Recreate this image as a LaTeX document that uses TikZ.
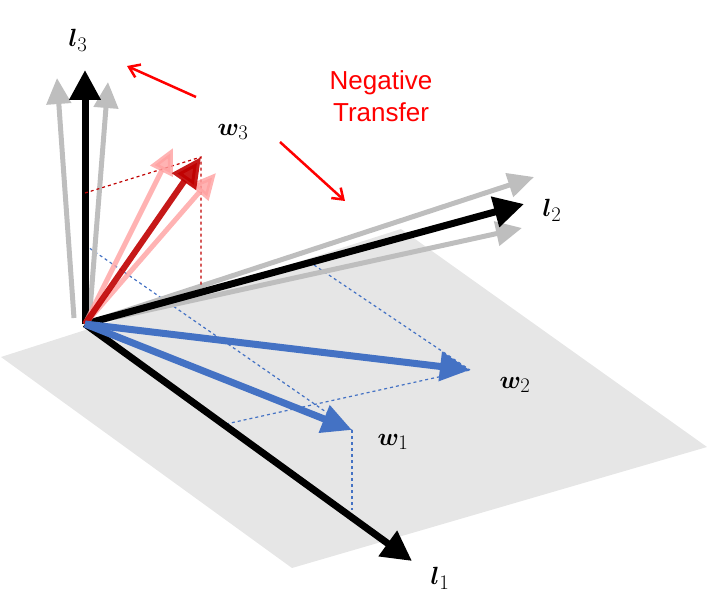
\documentclass[tikz,border=0pt]{standalone}
\usepackage{fontspec}
\usepackage{bm}
\newfontfamily\labsans{Liberation Sans}
\usetikzlibrary{arrows.meta}
\definecolor{wblue}{RGB}{68,114,196}
\definecolor{dred}{RGB}{192,0,0}
\definecolor{pinkv}{RGB}{255,160,160}
\definecolor{grayv}{RGB}{190,190,190}
\definecolor{planeg}{RGB}{230,230,230}
\tikzset{
  bigtip/.style={-{Triangle[length=30pt,width=30pt]}},
  axis/.style={bigtip,line width=7pt,black},
  ghost/.style={-{Triangle[length=26pt,width=24pt]},line width=5pt,grayv},
  wvec/.style={-{Triangle[length=30pt,width=28pt]},line width=7pt,wblue},
  pinkvec/.style={-{Triangle[length=26pt,width=24pt]},line width=5pt,pinkv,opacity=0.8},
  redvec/.style={-{Triangle[length=30pt,width=28pt]},line width=6pt,dred,opacity=0.9},
  bdash/.style={dashed,wblue,line width=1.2pt},
  rdash/.style={dashed,dred,line width=1.2pt},
  lab/.style={font=\fontsize{30}{30}\selectfont},
  redarrow/.style={-{Straight Barb[length=10pt,width=14pt]},red,line width=2.5pt}
}
\begin{document}
\begin{tikzpicture}[x=1pt,y=-1pt]
\useasboundingbox (0,0) rectangle (708,609);
\fill[planeg] (1,357) -- (401,229) -- (707,447) -- (292,568) -- cycle;
\coordinate (O) at (85,324);
\coordinate (L3) at (85,70);
\coordinate (L2) at (524,204);
\coordinate (L1) at (412,561);
\coordinate (W1) at (352,430);
\coordinate (W2) at (470,370);
\coordinate (W3) at (201,157);
% dashed projections
\coordinate (P3a) at (85,193);
\coordinate (P3b) at (201,285);
\coordinate (Q3) at (85,245);
\coordinate (Q1) at (226,424);
\coordinate (Q2) at (314,265);
\coordinate (W1b) at (352,510);
\draw[bdash] (Q3) -- (W1);
\draw[bdash] (Q1) -- (W2);
\draw[bdash] (Q2) -- (W2);
\draw[bdash] (W1) -- (W1b);
% ghosts
\coordinate (G3a) at (57,78);
\coordinate (G3b) at (108,82);
\coordinate (G2a) at (534,177);
\coordinate (G2b) at (522,228);
\draw[ghost] (74,318) -- (G3a);
\draw[ghost] (90,310) -- (G3b);
\draw[ghost] (O) -- (G2a);
\draw[ghost] (O) -- (G2b);
\draw[axis] (O) -- (L3);
\draw[axis] (O) -- (L2);
\draw[axis] (O) -- (L1);
% red
\draw[rdash] (P3a) -- (W3) -- (P3b);
\coordinate (R1) at (173,148);
\coordinate (R2) at (216,173);
\draw[pinkvec] (O) -- (R1);
\draw[pinkvec] (O) -- (R2);
\draw[redvec] (O) -- (W3);
\draw[wvec] (O) -- (W2);
\draw[wvec] (O) -- (W1);
% labels
\node[lab] (l3) at (78,40) {$\bm{l}_3$};
\node[lab] (l2) at (552,210) {$\bm{l}_2$};
\node[lab] (l1) at (440,578) {$\bm{l}_1$};
\node[lab] (w1) at (393,442) {$\bm{w}_1$};
\node[lab] (w2) at (515,385) {$\bm{w}_2$};
\node[lab] (w3) at (233,132) {$\bm{w}_3$};
\node[red,font=\labsans\fontsize{26}{32}\selectfont,align=center] (nt) at (381,96) {Negative\\Transfer};
\coordinate (A1s) at (196,97);
\coordinate (A1e) at (127,66);
\coordinate (A2s) at (280,142);
\coordinate (A2e) at (345,201);
\draw[redarrow] (A1s) -- (A1e);
\draw[redarrow] (A2s) -- (A2e);
\end{tikzpicture}
\end{document}
